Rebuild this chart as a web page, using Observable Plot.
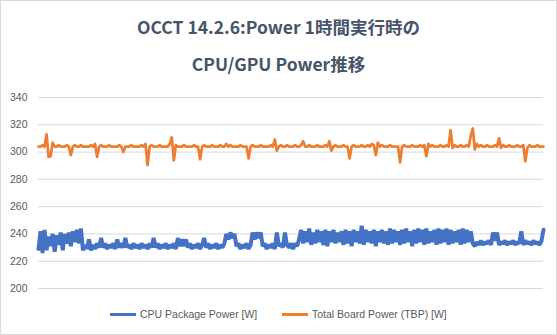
<!DOCTYPE html>
<html>
<head>
<meta charset="utf-8">
<script src="https://cdn.jsdelivr.net/npm/d3@7"></script>
<script src="https://cdn.jsdelivr.net/npm/@observablehq/plot@0.6"></script>
<style>
  html, body { margin: 0; padding: 0; background: #fff; }
  body { width: 557px; height: 335px; position: relative; overflow: hidden; }
  #frame { position: absolute; left: 0; top: 0; width: 555px; height: 333px; border: 1px solid #D9D9D9; }
  #title { position: absolute; left: 0; top: 8px; width: 557px; text-align: center;
    font-family: "Noto Sans CJK JP", "Noto Sans", sans-serif; font-weight: bold; font-size: 17.5px;
    line-height: 37px; color: #44546A; }
  #chart { position: absolute; left: 0; top: 82px; }
  #legend { position: absolute; left: 0; top: 306px; width: 557px; height: 16px; }
  .item { position: absolute; top: 0; height: 16px; line-height: 16px; font-family: "Liberation Sans", Arial, sans-serif; font-size: 10.5px; color: #595959; white-space: nowrap; }
  .sw { display: inline-block; width: 26px; height: 3px; vertical-align: middle; margin-right: 4px; position: relative; top: -1px; }
</style>
</head>
<body>
<div id="frame"></div>
<div id="title"></div>
<div id="chart"></div>
<div id="legend"></div>
<script>
const titleLines = ["OCCT 14.2.6:Power 1時間実行時の", "CPU/GPU Power推移"];
const seriesNames = ["CPU Package Power [W]", "Total Board Power (TBP) [W]"];
const seriesColors = ["#4472C4", "#ED7D31"];
const yTicks = [200, 220, 240, 260, 280, 300, 320, 340];

// CPU Package Power [W], samples across the hour
const cpuPower = [
  229,242,226,243,228,238,231,240,227,239,232,241,228,240,233,241,231,242,234,243,233,244,
  228,232,229,236,228,232,229,233,230,237,
  230,233,229,232,230,233,229,236,230,233,
  230,237,230,232,229,233,230,232,229,233,
  230,232,229,233,230,237,230,233,229,232,
  230,233,229,232,230,233,229,237,231,
  236,231,236,230,233,229,232,230,233,229,
  232,237,230,233,229,232,230,233,229,232,
  230,233,240,236,241,237,240,231,233,229,
  232,230,233,229,232,241,236,241,237,241,
  231,233,229,232,230,233,229,241,231,233,
  230,241,232,230,233,229,233,231,
  236,243,233,242,234,244,232,241,233,243,
  234,242,232,243,231,242,234,243,233,241,
  234,242,232,243,233,242,231,243,234,242,
  233,246,232,243,234,242,233,243,231,242,
  234,243,233,242,232,244,233,243,234,242,
  232,243,233,244,234,242,231,243,233,244,
  234,243,232,244,233,242,234,243,232,244,
  233,243,234,244,232,243,233,242,234,243,
  232,244,233,243,234,242,233,
  231,234,232,235,232,234,233,235,232,241,
  235,241,232,234,233,235,232,234,233,235,
  232,234,233,242,232,235,233,234,232,235,
  233,234,232,235,243
];

// Total Board Power (TBP) [W]
const tbpPower = [
  304,304,305,304,313,296.5,297,307,304,304,
  305,304,304,304,305,304,297.7,304,305,304,
  304,305,304,304,304,304,305,304,306,296.5,
  304,305,304,304,304,305,304,304,304,304,
  305,304,300,304,304,304,305,304,304,304,
  304,305,304,306,290.5,304,305,304,304,304,
  305,304,304,304,304,306,310.7,294,305,304,
  304,304,305,304,304,304,304,305,304,304,
  294.8,304,305,304,304,304,305,304,304,304,
  305,304,304,306,304,305,304,304,304,304,
  305,304,304,304,295.3,304,305,304,304,304,
  305,304,304,304,304,305,304,309.2,301,304,
  305,304,304,305,304,304,304,305,304,304,
  305,308,304,304,305,304,304,304,305,304,
  304,304,305,304,308,301,304,305,304,304,
  304,305,304,304,295.3,304,305,304,304,304,
  305,304,304,305,304,306,305,297.7,307,304,
  305,304,304,304,305,304,304,304,304,292.4,
  304,305,304,304,304,305,304,304,304,305,
  304,305,297,306,304,305,304,304,304,305,
  304,304,305,304,316,303,305,304,304,305,
  304,304,305,304,312,317.3,302,306,304,305,
  304,304,305,304,304,304,305,304,310,303,
  305,304,304,305,304,304,304,305,304,304,
  305,293.3,303,305,304,304,304,305,304,304,
  304
];

document.getElementById("title").innerHTML = titleLines.map(t => `<div>${t}</div>`).join("");

const n = Math.max(cpuPower.length, tbpPower.length) - 1;

const chart = Plot.plot({
  width: 557,
  height: 216,
  marginTop: 15,
  marginBottom: 10,
  marginLeft: 38,
  marginRight: 14,
  style: { background: "transparent", color: "#595959", fontFamily: "Liberation Sans, Arial, sans-serif", fontSize: "10.5px", overflow: "visible" },
  x: { domain: [0, n], axis: null },
  y: { domain: [200, 340], axis: null },
  marks: [
    Plot.gridY(yTicks, { stroke: "#D9D9D9", strokeOpacity: 1, strokeWidth: 1 }),
    Plot.axisY(yTicks, { tickSize: 0, tickPadding: 11, label: null, fontSize: 10.5 }),
    Plot.lineY(cpuPower, { x: (d, i) => i, y: d => d, stroke: seriesColors[0], strokeWidth: 4, strokeLinejoin: "miter", strokeMiterlimit: 1 }),
    Plot.lineY(tbpPower, { x: (d, i) => i, y: d => d, stroke: seriesColors[1], strokeWidth: 2.75, strokeLinejoin: "round" })
  ]
});
document.getElementById("chart").appendChild(chart);

const legendX = [110, 282];
const legend = document.getElementById("legend");
seriesNames.forEach((name, k) => {
  const el = document.createElement("div");
  el.className = "item";
  el.style.left = legendX[k] + "px";
  el.innerHTML = `<span class="sw" style="background:${seriesColors[k]}"></span>${name}`;
  legend.appendChild(el);
});
</script>
</body>
</html>
